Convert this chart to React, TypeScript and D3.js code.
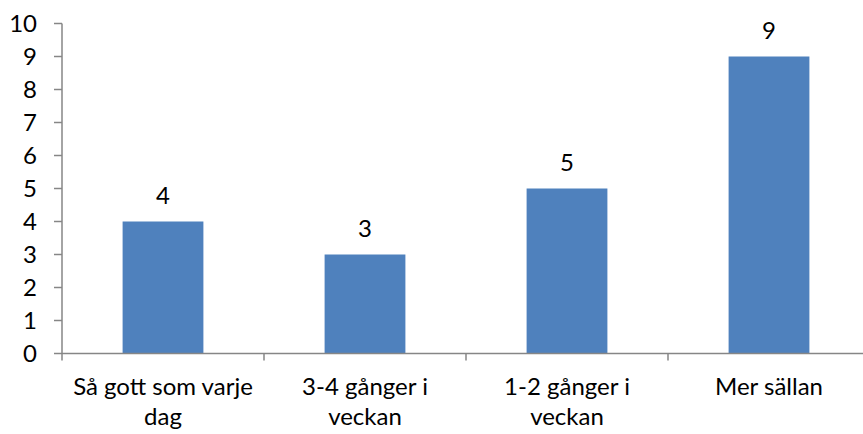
import React from "react";
import * as d3 from "d3";

const categories: string[][] = [
  ["Så gott som varje", "dag"],
  ["3-4 gånger i", "veckan"],
  ["1-2 gånger i", "veckan"],
  ["Mer sällan"],
];
const values: number[] = [4, 3, 5, 9];
const yTicks: number[] = [0, 1, 2, 3, 4, 5, 6, 7, 8, 9, 10];

export default function App() {
  const W = 863, H = 434;
  const x0 = 62, step = 202, yTop = 23.5, yBot = 353.5;
  const x = d3.scaleBand<number>()
    .domain(values.map((_, i) => i))
    .range([x0, x0 + step * values.length])
    .paddingInner(0.6)
    .paddingOuter(0.3);
  const y = d3.scaleLinear().domain([0, 10]).range([yBot, yTop]);
  const axisColor = "#868686";
  const font = "Lato, 'Open Sans', sans-serif";
  const fs = 24;
  return (
    <svg width={W} height={H} style={{ position: "absolute", left: 0, top: 0, background: "#fff" }} fontFamily={font}>
      {values.map((v, i) => (
        <g key={i}>
          <rect x={x(i)!} y={y(v)} width={x.bandwidth()} height={y(0) - y(v)} fill="#4F81BD" />
          <text x={x(i)! + x.bandwidth() / 2} y={y(v) - 18} textAnchor="middle" fontSize={fs} fill="#000">{v}</text>
        </g>
      ))}
      <line x1={x0} x2={x0} y1={yTop} y2={yBot} stroke={axisColor} strokeWidth={1.5} />
      {yTicks.map((t) => (
        <g key={t}>
          <line x1={x0 - 8} x2={x0} y1={y(t)} y2={y(t)} stroke={axisColor} strokeWidth={1.5} />
          <text x={37} y={y(t)} dy="0.35em" textAnchor="end" fontSize={fs} fill="#000">{t}</text>
        </g>
      ))}
      <line x1={x0} x2={x0 + step * values.length} y1={yBot} y2={yBot} stroke={axisColor} strokeWidth={1.5} />
      {d3.range(values.length + 1).map((i) => (
        <line key={i} x1={x0 + i * step} x2={x0 + i * step} y1={yBot} y2={yBot + 7} stroke={axisColor} strokeWidth={1.5} />
      ))}
      {categories.map((lines, i) => (
        <text key={i} x={x(i)! + x.bandwidth() / 2} textAnchor="middle" fontSize={fs} fill="#000">
          {lines.map((l, j) => (
            <tspan key={j} x={x(i)! + x.bandwidth() / 2} y={395 + j * 29.5}>{l}</tspan>
          ))}
        </text>
      ))}
    </svg>
  );
}
